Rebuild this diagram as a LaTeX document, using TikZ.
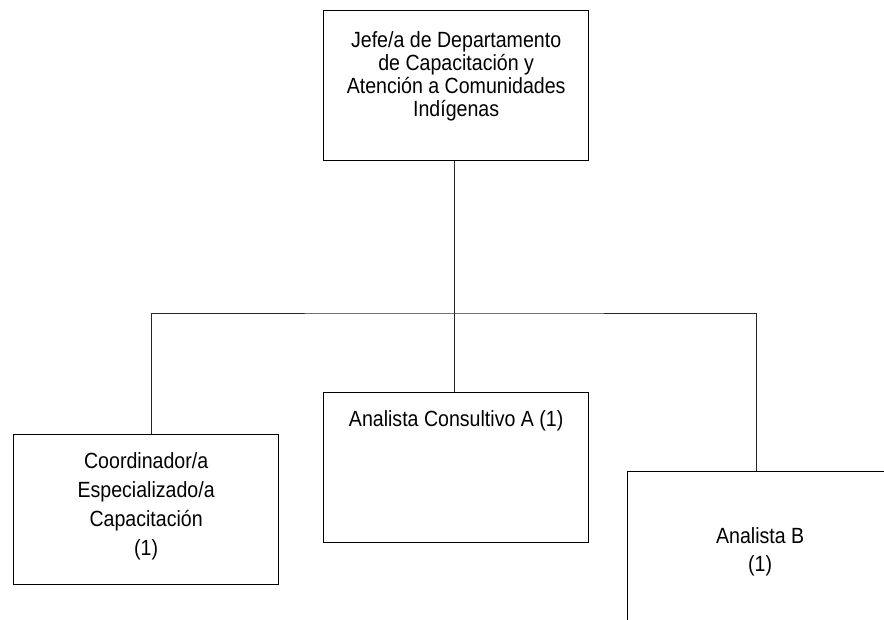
\documentclass[tikz,border=0pt]{standalone}
\usepackage{fontspec}
\setmainfont{Liberation Sans}[FakeStretch=0.89]
\usetikzlibrary{positioning}
\tikzset{
	puesto/.style={draw, rectangle, line width=1.3pt, minimum width=265pt, minimum height=150pt, anchor=north west, inner sep=0pt},
	% text of a box, #1 = line spacing
	texto/.style={align=center, inner sep=0pt, font=\fontsize{22}{#1}\selectfont},
	texto/.default=23pt,
	linea/.style={line width=0.7pt, black!85},
}

\begin{document}
\begin{tikzpicture}[x=1pt, y=-1pt]
				\useasboundingbox (0,0) rectangle (884,620);
				
				\node (jefe) [puesto] at (323,10) {};
				\node (coord) [puesto] at (13,434) {};
				\node (consA) [puesto] at (323,392) {};
				\node (anB) [puesto] at (627,471) {};
				
				% texts
				\node (jefeT) [texto, below=21pt of jefe.north] {Jefe/a de Departamento\\de Capacitación y\\Atención a Comunidades\\Indígenas};
				\node (coordT) [texto=29pt, below=18pt of coord.north] {Coordinador/a\\Especializado/a\\Capacitación\\(1)};
				\node (consAT) [texto, below=18pt of consA.north] {Analista Consultivo A (1)};
				\node (anBT) [texto=28pt, below=56pt of anB.north] {Analista B\\(1)};
				
				\coordinate (barra) at (0,313);
				
				\begin{scope}[linea]
					\draw ([xshift=-1.5pt]jefe.south) -- ([xshift=-1.5pt]consA.north);
					\draw ([xshift=5pt]coord.north) |- ([xshift=-1.5pt]jefe.south |- barra) -| ([xshift=-3.5pt]anB.north);
				\end{scope}
			\end{tikzpicture}
\end{document}
